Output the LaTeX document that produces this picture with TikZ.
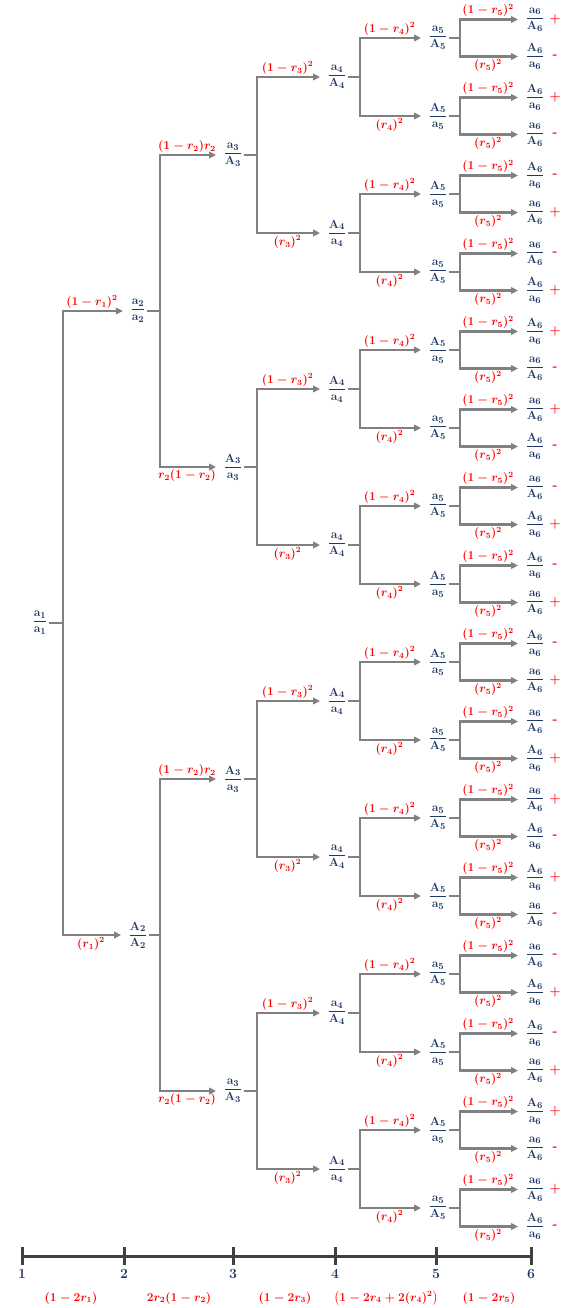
\documentclass[tikz,border=0pt]{standalone}
\usepackage{amsmath}
\usetikzlibrary{arrows.meta}
\definecolor{navy}{RGB}{31,56,100}
\definecolor{lgray}{RGB}{128,128,128}
\definecolor{tred}{RGB}{255,0,0}
\definecolor{axg}{RGB}{64,64,64}
\newcommand\frc[3]{$\dfrac{\mathbf{#1_{#3}}}{\mathbf{#2_{#3}}}$}
\newcommand\branch[5]{\draw[br] (#1.east) -- (#1 -| #2) |- node[lab,#5,pos=0.75,xshift=-4pt]{#4} (#3);}
\begin{document}
\begin{tikzpicture}[x=1pt,y=-1pt,
  frac/.style={text=navy, inner sep=1.5pt, font=\fontsize{13}{15}\selectfont},
  br/.style={draw=lgray, line width=2.4pt, line join=miter, -{Triangle[length=7pt,width=6.5pt]}, shorten >=6pt},
  lab/.style={text=tred, inner sep=1.5pt, font=\fontsize{12}{14}\selectfont\boldmath},
  sgn/.style={text=tred, inner sep=1pt, font=\fontsize{13}{15}\selectfont\bfseries},
  axis/.style={draw=axg, line width=3pt},
  axnum/.style={text=navy, inner sep=0pt, font=\fontsize{14}{16}\selectfont\bfseries},
  axlab/.style={text=tred, inner sep=0pt, font=\fontsize{12}{14}\selectfont\boldmath},
]
\useasboundingbox (0,0) rectangle (581,1308);
\coordinate (v1) at (63,0);
\coordinate (v2) at (160,0);
\coordinate (v3) at (257,0);
\coordinate (v4) at (360,0);
\coordinate (v5) at (460,0);

% level 1
\node[frac] (n1-0) at (40,623) {\frc{a}{a}{1}};
% level 2
\node[frac] (n2-0) at (138,311) {\frc{a}{a}{2}};
\node[frac] (n2-1) at (138,935) {\frc{A}{A}{2}};
\branch{n1-0}{v1}{n2-0}{$(1-r_1)^2$}{above}
\branch{n1-0}{v1}{n2-1}{$(r_1)^2$}{below}

% level 3
\foreach \k/\ua/\ub in {0/a/A,1/A/a,2/A/a,3/a/A}{
  \pgfmathsetmacro\yy{155+312*\k}
  \pgfmathtruncatemacro\pp{div(\k,2)}
  \pgfmathtruncatemacro\od{mod(\k,2)}
  \node[frac] (n3-\k) at (233,\yy) {\frc{\ua}{\ub}{3}};
  \ifnum\od=0 \branch{n2-\pp}{v2}{n3-\k}{$(1-r_2)r_2$}{above}
  \else \branch{n2-\pp}{v2}{n3-\k}{$r_2(1-r_2)$}{below}\fi
}

% level 4
\foreach \k/\ua/\ub in {0/a/A,1/A/a,2/A/a,3/a/A,4/A/a,5/a/A,6/a/A,7/A/a}{
  \pgfmathsetmacro\yy{77+156*\k}
  \pgfmathtruncatemacro\pp{div(\k,2)}
  \pgfmathtruncatemacro\od{mod(\k,2)}
  \node[frac] (n4-\k) at (337,\yy) {\frc{\ua}{\ub}{4}};
  \ifnum\od=0 \branch{n3-\pp}{v3}{n4-\k}{$(1-r_3)^2$}{above}
  \else \branch{n3-\pp}{v3}{n4-\k}{$(r_3)^2$}{below}\fi
}

% level 5
\foreach \k/\ua/\ub in {0/a/A,1/A/a,2/A/a,3/a/A,4/A/a,5/a/A,6/a/A,7/A/a,
                        8/A/a,9/a/A,10/a/A,11/A/a,12/a/A,13/A/a,14/A/a,15/a/A}{
  \pgfmathsetmacro\yy{38+78*\k}
  \pgfmathtruncatemacro\pp{div(\k,2)}
  \pgfmathtruncatemacro\od{mod(\k,2)}
  \node[frac] (n5-\k) at (438,\yy) {\frc{\ua}{\ub}{5}};
  \ifnum\od=0 \branch{n4-\pp}{v4}{n5-\k}{$(1-r_4)^2$}{above}
  \else \branch{n4-\pp}{v4}{n5-\k}{$(r_4)^2$}{below}\fi
}

% level 6 (leaves)
\foreach \k/\ua/\ub/\sg in {0/a/A/+,1/A/a/-,2/A/a/+,3/a/A/-,4/A/a/-,5/a/A/+,6/a/A/-,7/A/a/+,
    8/A/a/+,9/a/A/-,10/a/A/+,11/A/a/-,12/a/A/-,13/A/a/+,14/A/a/-,15/a/A/+,
    16/A/a/-,17/a/A/+,18/a/A/-,19/A/a/+,20/a/A/+,21/A/a/-,22/A/a/+,23/a/A/-,
    24/a/A/-,25/A/a/+,26/A/a/-,27/a/A/+,28/A/a/+,29/a/A/-,30/a/A/+,31/A/a/-}{
  \pgfmathtruncatemacro\pp{div(\k,2)}
  \pgfmathtruncatemacro\od{mod(\k,2)}
  \pgfmathsetmacro\yy{38+78*\pp+37*\od-18.5}
  \node[frac] (n6-\k) at (535,\yy) {\frc{\ua}{\ub}{6}};
  \node[sgn] (s6-\k) at (555,\yy) {\sg};
  \ifnum\od=0 \branch{n5-\pp}{v5}{n6-\k}{$(1-r_5)^2$}{above}
  \else \branch{n5-\pp}{v5}{n6-\k}{$(r_5)^2$}{below}\fi
}

% axis
\foreach \i/\x in {1/22,2/124,3/233,4/335,5/436,6/531}{
  \coordinate (t\i) at (\x,1256);
  \draw[axis] (\x,1247) -- (\x,1265);
  \node[axnum] (l\i) at (\x,1274) {\i};
}
\draw[axis] (t1) -- (t6);
\node[axlab] (f1) at (71,1298) {$(1-2r_1)$};
\node[axlab] (f2) at (179,1298) {$2r_2(1-r_2)$};
\node[axlab] (f3) at (285,1298) {$(1-2r_3)$};
\node[axlab] (f4) at (386,1298) {$\bigl(1-2r_4+2(r_4)^2\bigr)$};
\node[axlab] (f5) at (489,1298) {$(1-2r_5)$};
\end{tikzpicture}
\end{document}
